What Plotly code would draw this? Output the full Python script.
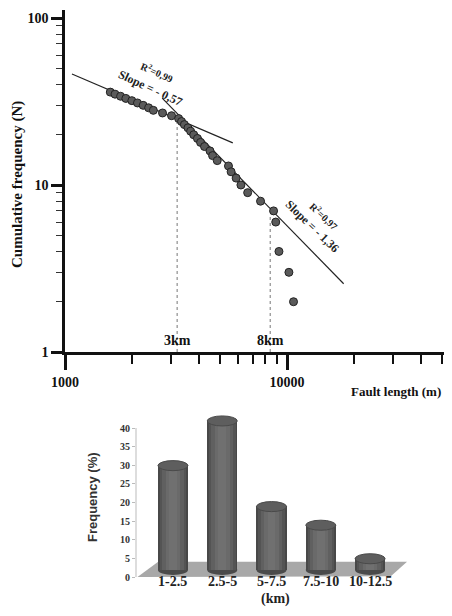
import numpy as np
import plotly.graph_objects as go

# ---------------- data ----------------
fault_length = [1600, 1680, 1780, 1880, 2000, 2120, 2250, 2380, 2500, 2750, 3020, 3250,
                3350, 3450, 3580, 3680, 3800, 3950, 4080, 4250, 4500, 4620, 4850, 5450,
                5600, 5900, 6200, 6650, 7600, 8700, 8900, 9200, 10200, 10700]
cum_freq = [36, 35, 34, 33, 32, 31, 30, 29, 28, 27, 26, 25,
            24, 23, 22, 21, 20, 19, 18, 17, 16, 15, 14, 13,
            12, 11, 10, 9, 8, 7, 6, 4, 3, 2]

fit1_slope, fit1_logc, fit1_x = -0.57, 3.393, [1075, 5700]
fit2_slope, fit2_logc, fit2_x = -1.36, 6.196, [2740, 18000]

break_x = [3200, 8400]
break_top = [24.5, 6.6]
break_labels = ["3km", "8km"]

x_major = [1000, 10000]
x_minor = [2000, 3000, 4000, 5000, 6000, 7000, 8000, 9000, 20000, 30000, 40000, 50000]
y_major = [1, 10, 100]
y_minor = [2, 3, 4, 5, 6, 7, 8, 9, 20, 30, 40, 50, 60, 70, 80, 90]

classes = ["1-2.5", "2.5-5", "5-7.5", "7.5-10", "10-12.5"]
freq_pct = [28, 40, 17, 12, 3]
freq_ticks = [0, 5, 10, 15, 20, 25, 30, 35, 40]

# page body has an 8px margin: the figure starts at (8, 8) in the window
OFF = 8
W, H = 452 - 2 * OFF, 616 - 2 * OFF
SERIF = "Liberation Serif"

def px_x(p):
    return (p - OFF) / W

def px_y(p):
    return 1 - (p - OFF) / H

fig = go.Figure()

# ---------------- top chart ----------------
for xs, s, c in [(fit1_x, fit1_slope, fit1_logc), (fit2_x, fit2_slope, fit2_logc)]:
    xs = np.array(xs, dtype=float)
    ys = 10 ** (c + s * np.log10(xs))
    fig.add_trace(go.Scatter(x=xs, y=ys, mode="lines", line=dict(color="#222", width=1.2),
                             xaxis="x", yaxis="y", showlegend=False, hoverinfo="skip"))

for bx, bt in zip(break_x, break_top):
    fig.add_trace(go.Scatter(x=[bx, bx], y=[1, bt], mode="lines",
                             line=dict(color="#777", width=1, dash="dot"),
                             xaxis="x", yaxis="y", showlegend=False, hoverinfo="skip"))

fig.add_trace(go.Scatter(x=fault_length, y=cum_freq, mode="markers",
                         marker=dict(size=8, color="#5a5a5a", line=dict(color="#222", width=1)),
                         xaxis="x", yaxis="y", showlegend=False))

for bx, lab in zip(break_x, break_labels):
    fig.add_annotation(x=np.log10(bx), y=0, xref="x", yref="y", text=lab,
                       showarrow=False, xanchor="center", yanchor="bottom", yshift=2,
                       font=dict(family=SERIF, size=14, color="#111", weight="bold"))

# ---------------- bottom chart ----------------
base = 1.9
xpos = list(range(len(classes)))
layers = [(0.61, "#484848"), (0.54, "#545454"), (0.44, "#606060"), (0.30, "#6a6a6a"), (0.16, "#707070")]
for w, col in layers:
    fig.add_trace(go.Bar(x=xpos, y=freq_pct, base=base, width=w, marker=dict(color=col, line=dict(width=0)),
                         xaxis="x2", yaxis="y2", showlegend=False, hoverinfo="skip"))

for i, lab in zip(xpos, classes):
    fig.add_annotation(x=i, y=0, xref="x2", yref="y2", text=lab, showarrow=False,
                       xanchor="center", yanchor="middle", yshift=-4,
                       font=dict(family=SERIF, size=14, color="#222", weight="bold"))

shapes = []
shapes.append(dict(type="path", xref="x2", yref="y2",
                   path="M -0.72,0 L -0.30,4.1 L 4.75,4.1 L 4.42,0.2 Z",
                   fillcolor="#a8a8a8", line=dict(width=0), layer="below"))
eh = 1.35
for i, v in zip(xpos, freq_pct):
    shapes.append(dict(type="circle", xref="x2", yref="y2", x0=i - 0.305, x1=i + 0.305,
                       y0=base - eh, y1=base + eh, fillcolor="#4a4a4a", line=dict(width=0), layer="below"))
    top = base + v
    shapes.append(dict(type="circle", xref="x2", yref="y2", x0=i - 0.305, x1=i + 0.305,
                       y0=top - eh, y1=top + eh, fillcolor="#5e5e5e", line=dict(color="#4a4a4a", width=1),
                       layer="above"))
shapes.append(dict(type="line", xref="x2 domain", yref="y2", x0=0, x1=0, y0=0, y1=40,
                   line=dict(color="#bbbbbb", width=1)))

def ann(x, y, text, angle=0, size=12, family=SERIF, color="#222", xanchor="center"):
    fig.add_annotation(x=px_x(x), y=px_y(y), xref="paper", yref="paper", text=text,
                       textangle=angle, showarrow=False, xanchor=xanchor, yanchor="middle",
                       font=dict(family=family, size=size, color=color, weight="bold"))

ann(18, 185, "Cumulative frequency (N)", angle=-90, size=15, color="#111")
ann(443, 391, "Fault length (m)", size=13, color="#111", xanchor="right")
ann(157, 72, "R<sup>2</sup>=0,99", angle=24, size=10)
ann(150, 88, "Slope = - 0,57", angle=25, size=12)
ann(324, 216, "R<sup>2</sup>=0,97", angle=43, size=10)
ann(312, 226, "Slope = - 1,36", angle=44, size=12)
ann(93, 497, "Frequency (%)", angle=-90, size=13, family="Liberation Sans", color="#333")
fig.add_annotation(x=px_x(275), y=0, xref="paper", yref="paper", text="(km)", showarrow=False,
                   xanchor="center", yanchor="bottom", yshift=-1,
                   font=dict(family=SERIF, size=14, color="#222", weight="bold"))

fig.update_layout(
    width=W, height=H, margin=dict(l=0, r=0, t=0, b=0),
    paper_bgcolor="white", plot_bgcolor="white",
    barmode="overlay", bargap=0,
    shapes=shapes,
    xaxis=dict(type="log", range=[3, 3 + (W + OFF - 65) / 222.0], domain=[px_x(65), 1.0], anchor="y",
               showline=True, linecolor="#111", linewidth=2.5, showgrid=False, zeroline=False,
               ticks="outside", ticklen=15, tickwidth=2.5, tickcolor="#111",
               tickvals=x_major, ticktext=[str(v) for v in x_major],
               minor=dict(tickvals=x_minor, ticks="outside", ticklen=9, tickwidth=1.5, tickcolor="#111"),
               tickfont=dict(family=SERIF, size=14, color="#111", weight="bold"), automargin=False),
    yaxis=dict(type="log", range=[0, 2.048], domain=[px_y(352), px_y(10)], anchor="x",
               showline=True, linecolor="#111", linewidth=2.5, showgrid=False, zeroline=False,
               ticks="outside", ticklen=11, tickwidth=2.5, tickcolor="#111",
               tickvals=y_major, ticktext=[str(v) for v in y_major],
               minor=dict(tickvals=y_minor, ticks="outside", ticklen=6, tickwidth=1.2, tickcolor="#333"),
               tickfont=dict(family=SERIF, size=14, color="#111", weight="bold"), automargin=False),
    xaxis2=dict(range=[-0.75, 4.81], domain=[px_x(136), px_x(410)], anchor="y2",
                showline=False, showgrid=False, zeroline=False, ticks="",
                showticklabels=False, automargin=False),
    yaxis2=dict(range=[0, 45], domain=[px_y(577), px_y(409.4)], anchor="x2",
                showline=False, showgrid=False, zeroline=False,
                ticks="outside", ticklen=3, tickcolor="#bbbbbb",
                tickvals=freq_ticks, ticktext=[str(v) for v in freq_ticks],
                tickfont=dict(family=SERIF, size=10, color="#333", weight="bold"), automargin=False),
)

fig.write_html("out.html")
